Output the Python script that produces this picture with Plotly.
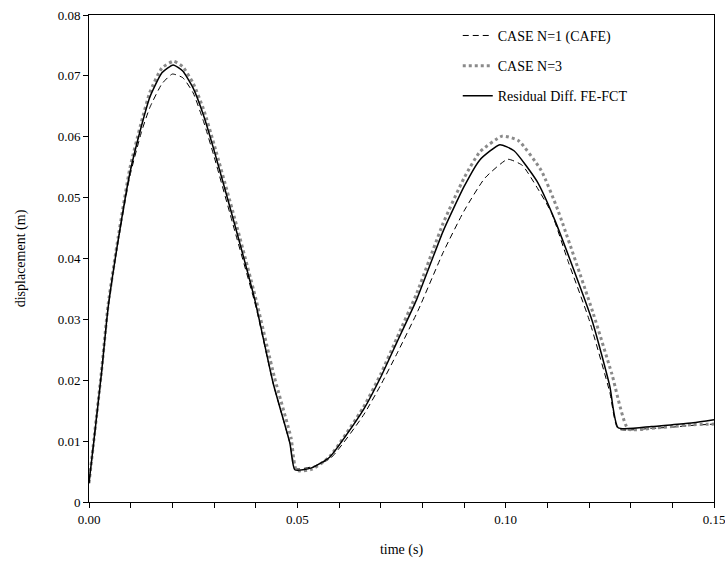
import plotly.graph_objects as go

# ---- data ----
t_resid = [0, 0.0012, 0.003, 0.0046, 0.007, 0.0098, 0.0126, 0.0146, 0.0175, 0.0202, 0.0225, 0.025,
           0.0275, 0.03, 0.035, 0.0398, 0.0442, 0.0482, 0.0494, 0.0534, 0.0578, 0.0658, 0.07,
           0.0738, 0.0786, 0.085, 0.09, 0.0938, 0.0986, 0.102, 0.1075, 0.1118, 0.1207, 0.125,
           0.127, 0.135, 0.14, 0.145, 0.15]
d_resid = [0.0031, 0.0102, 0.0212, 0.032, 0.043, 0.054, 0.0618, 0.0665, 0.0705, 0.0718, 0.0708,
           0.068, 0.0635, 0.0578, 0.0455, 0.0332, 0.0195, 0.0097, 0.0053, 0.0056, 0.0074, 0.0151,
           0.0205, 0.0261, 0.0332, 0.0445, 0.0518, 0.0562, 0.0587, 0.0577, 0.0527, 0.0463, 0.0299,
           0.019, 0.0122, 0.0124, 0.0127, 0.013, 0.0135]

t_cafe = [0, 0.0012, 0.003, 0.0046, 0.007, 0.0098, 0.0126, 0.0146, 0.0175, 0.02, 0.0225, 0.025,
          0.0275, 0.03, 0.035, 0.04, 0.0442, 0.0482, 0.0496, 0.0536, 0.058, 0.0658, 0.07, 0.074,
          0.079, 0.085, 0.09, 0.095, 0.1005, 0.104, 0.1075, 0.111, 0.115, 0.12, 0.125, 0.127,
          0.135, 0.14, 0.145, 0.15]
d_cafe = [0.0031, 0.0102, 0.0212, 0.032, 0.0428, 0.0535, 0.0608, 0.0648, 0.0687, 0.0703, 0.0697,
          0.0672, 0.0625, 0.0568, 0.0445, 0.0322, 0.0195, 0.0097, 0.0055, 0.0058, 0.0072, 0.0142,
          0.0192, 0.0245, 0.0315, 0.041, 0.0478, 0.0532, 0.0563, 0.0553, 0.0517, 0.0475, 0.0395,
          0.030, 0.018, 0.012, 0.0121, 0.0123, 0.0126, 0.0128]

t_n3 = [0, 0.0012, 0.003, 0.0046, 0.007, 0.0098, 0.0126, 0.0146, 0.0175, 0.0203, 0.0225, 0.025,
        0.0275, 0.03, 0.035, 0.04, 0.0445, 0.0485, 0.0498, 0.0536, 0.0578, 0.0658, 0.07, 0.0738,
        0.0786, 0.085, 0.09, 0.0938, 0.0992, 0.103, 0.1085, 0.1125, 0.121, 0.1255, 0.1294, 0.135,
        0.14, 0.145, 0.15]
d_n3 = [0.0031, 0.0104, 0.0215, 0.0325, 0.0435, 0.0548, 0.0625, 0.0673, 0.0713, 0.0724, 0.0715,
        0.0688, 0.0645, 0.0588, 0.0465, 0.0335, 0.0205, 0.0105, 0.0052, 0.0054, 0.0075, 0.0155,
        0.021, 0.0268, 0.0342, 0.0458, 0.0532, 0.0575, 0.0601, 0.0594, 0.0545, 0.048, 0.031,
        0.021, 0.012, 0.0121, 0.0124, 0.0127, 0.0128]

y_ticks = [0, 0.01, 0.02, 0.03, 0.04, 0.05, 0.06, 0.07, 0.08]
y_ticktext = ["0", "0.01", "0.02", "0.03", "0.04", "0.05", "0.06", "0.07", "0.08"]
x_ticks = [0, 0.05, 0.10, 0.15]
x_ticktext = ["0.00", "0.05", "0.10", "0.15"]

FONT = "Liberation Serif, Times New Roman, serif"
SMOOTH = 0.5

fig = go.Figure()
fig.add_trace(go.Scatter(x=t_cafe, y=d_cafe, mode="lines", name="CASE N=1 (CAFE)",
                         legendgroup="a", legendrank=1,
                         line=dict(color="black", width=1, dash="6px,4px",
                                   shape="spline", smoothing=SMOOTH)))
fig.add_trace(go.Scatter(x=t_n3, y=d_n3, mode="lines", name="CASE N=3",
                         legendgroup="b", legendrank=2,
                         line=dict(color="#8a8a8a", width=3, dash="dot",
                                   shape="spline", smoothing=SMOOTH)))
fig.add_trace(go.Scatter(x=t_resid, y=d_resid, mode="lines", name="Residual Diff. FE-FCT",
                         legendgroup="c", legendrank=3,
                         line=dict(color="black", width=1.5, shape="spline", smoothing=SMOOTH)))

axis_common = dict(showline=True, linecolor="black", linewidth=1, mirror=True,
                   showgrid=False, zeroline=False, ticks="outside", ticklen=5,
                   tickcolor="black", automargin=False, ticklabeloverflow="allow",
                   tickfont=dict(family=FONT, size=13, color="black"))

fig.update_xaxes(range=[0, 0.15], tickvals=x_ticks, ticktext=x_ticktext,
                 minor=dict(dtick=0.01, ticks="outside", ticklen=5, tickcolor="black"),
                 title=dict(text="time (s)", font=dict(family=FONT, size=14, color="black"),
                            standoff=18),
                 **axis_common)
fig.update_yaxes(range=[0, 0.08], tickvals=y_ticks, ticktext=y_ticktext,
                 title=dict(text="displacement (m)", font=dict(family=FONT, size=14, color="black"),
                            standoff=28),
                 **axis_common)

fig.update_layout(
    width=725, height=570,
    margin=dict(l=89, r=11, t=15, b=68),
    paper_bgcolor="white", plot_bgcolor="white",
    font=dict(family=FONT, size=13, color="black"),
    legend=dict(x=0.59, y=0.99, xanchor="left", yanchor="top",
                bgcolor="rgba(0,0,0,0)", borderwidth=0, tracegroupgap=9,
                font=dict(family=FONT, size=14, color="black")),
)

fig.write_html("out.html")
